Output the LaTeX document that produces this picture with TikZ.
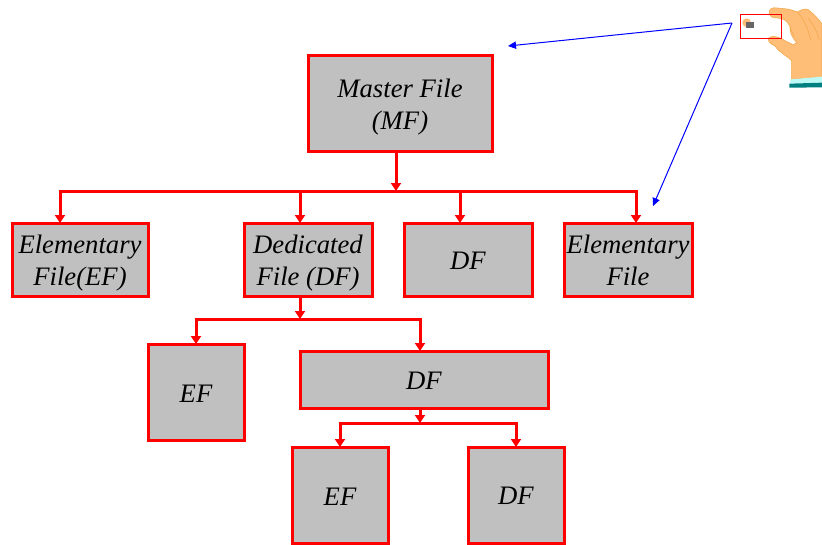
\documentclass[tikz,border=0pt]{standalone}
\usepackage{fontspec}
\setmainfont{Liberation Serif}
\usetikzlibrary{arrows.meta}
\definecolor{boxgray}{RGB}{192,192,192}
\definecolor{skin}{RGB}{255,190,120}
\definecolor{skinline}{RGB}{240,165,70}
\definecolor{cuff}{RGB}{190,250,245}
\definecolor{cufftop}{RGB}{0,128,128}
\newcommand{\topfix}{\rule{0pt}{15pt}}
\tikzset{
  filebox/.style={draw=red,line width=2.25pt,fill=boxgray,align=center,inner sep=0pt,outer sep=0pt,
    font=\fontsize{20}{24}\selectfont\itshape,anchor=north west},
  redlink/.style={draw=red,line width=2.25pt},
  redarrow/.style={redlink,-{Triangle[length=6pt,width=7.5pt]}},
  bluearrow/.style={draw=blue,line width=0.75pt,-{Triangle[length=6pt,width=5.5pt]}},
}
\begin{document}
\begin{tikzpicture}[x=0.75pt,y=-0.75pt]
\useasboundingbox (0,0) rectangle (822,544);
% boxes
\node[filebox,minimum width=138pt,minimum height=72pt] (mf) at (308,55) {\topfix Master File\\\smash{(MF)}};
\node[filebox,minimum width=102pt,minimum height=54.75pt] (ef1) at (12,223) {\topfix Elementary\\\smash{File(EF)}};
\node[filebox,minimum width=96pt,minimum height=54.75pt] (df1) at (244,223) {\topfix Dedicated\\\smash{File (DF)}};
\node[filebox,minimum width=96pt,minimum height=54.75pt] (df2) at (404,223) {\topfix DF};
\node[filebox,minimum width=96pt,minimum height=54.75pt] (ef2) at (564,223) {\topfix Elementary\\File};
\node[filebox,minimum width=72pt,minimum height=72pt] (ef3) at (148,344) {\topfix EF};
\node[filebox,minimum width=186pt,minimum height=42.75pt] (df3) at (300,351) {\topfix DF};
\node[filebox,minimum width=72pt,minimum height=72pt] (ef4) at (292,447) {\topfix EF};
\node[filebox,minimum width=72pt,minimum height=72pt] (df4) at (468,447) {\topfix DF};
% junctions
\coordinate (j1) at (396,191);
\coordinate (j2) at (300,319);
\coordinate (j3) at (420,423);
% level 1
\draw[redarrow] (mf.south -| j1) -- (j1);
\draw[redarrow] (j1) -| ([xshift=-15pt]ef1.north);
\draw[redarrow] (j1) -| ([xshift=-6pt]df1.north);
\draw[redarrow] (j1) -| ([xshift=-6pt]df2.north);
\draw[redarrow] (j1) -| ([xshift=6pt]ef2.north);
% level 2
\draw[redarrow] (df1.south -| j2) -- (j2);
\draw[redarrow] (j2) -| (ef3.north);
\draw[redarrow] (j2) -| ([xshift=-3pt]df3.north);
% level 3
\draw[redarrow] (df3.south -| j3) -- (j3);
\draw[redarrow] (j3) -| (ef4.north);
\draw[redarrow] (j3) -| (df4.north);
% hand and card (drawn in the 3x crop's units)
\begin{scope}[shift={(700,0)},x=0.25pt,y=-0.25pt]
  \fill[skin] (140,68) circle (13);
  \fill[black!60] (138,66) rectangle (162,84);
  \filldraw[fill=skin,draw=skinline,line width=0.4pt]
    (208,40) .. controls (205,28) and (218,20) .. (232,24)
    -- (262,27) .. controls (278,30) and (285,34) .. (292,36)
    .. controls (305,28) and (318,24) .. (326,30)
    .. controls (342,42) and (358,60) .. (366,72)
    -- (366,232) -- (275,238) -- (275,182)
    .. controls (258,165) and (240,160) .. (225,138)
    .. controls (208,132) and (200,118) .. (208,112)
    .. controls (220,104) and (245,114) .. (258,124)
    -- (280,134) -- (290,128)
    .. controls (275,112) and (268,92) .. (270,80)
    .. controls (262,62) and (250,54) .. (232,54)
    .. controls (218,54) and (210,50) .. (208,40) -- cycle;
  \draw[skinline,line width=0.4pt] (292,36) .. controls (315,60) and (325,90) .. (332,120);
  \draw[skinline,line width=0.4pt] (325,55) .. controls (340,75) and (352,95) .. (358,120);
  \draw[skinline,line width=0.4pt] (270,80) .. controls (272,92) and (280,100) .. (282,108);
  \fill[cuff] (272,238) -- (366,230) -- (366,250) -- (270,251) -- cycle;
  \fill[cufftop] (268,251) -- (366,248) -- (366,262) -- (268,263) -- cycle;
  \draw[red,line width=0.75pt] (121,43.5) rectangle (244,115.5);
  \coordinate (card) at (96,69);
\end{scope}
% blue arrows
\coordinate (mfmark) at (508,46);
\coordinate (efmark) at (653,206);
\draw[bluearrow] (card) -- (mfmark);
\draw[bluearrow] (card) -- (efmark);
\end{tikzpicture}
\end{document}
